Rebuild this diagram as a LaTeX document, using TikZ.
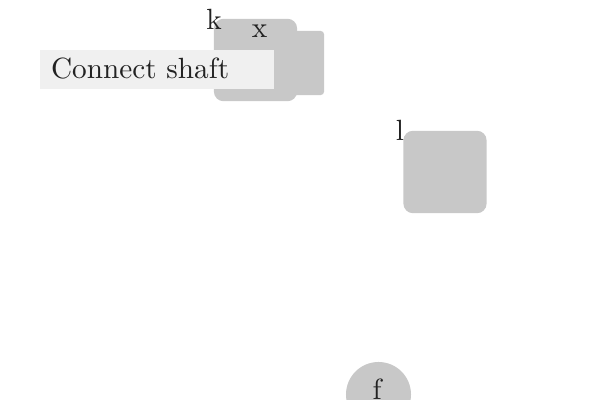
\documentclass[tikz,border=0pt]{standalone}
\begin{document}
\definecolor{boxgray}{HTML}{C8C8C8}
\definecolor{tagfill}{HTML}{F0F0F0}
\definecolor{ink}{HTML}{222222}
\tikzset{
  unit/.style={x=0.0125cm,y=-0.0125cm},
  blockbox/.style={fill=boxgray, draw=none, rounded corners=1.2mm,
    minimum width=1.04cm, minimum height=1.03cm, inner sep=0pt},
  backplate/.style={fill=boxgray, draw=none, rounded corners=0.4mm,
    minimum width=0.8cm, minimum height=0.8cm, inner sep=0pt},
  tagbox/.style={fill=tagfill, draw=none, minimum width=2.925cm,
    minimum height=0.4875cm, inner sep=0pt, text=ink},
  disc/.style={circle, fill=boxgray, draw=none, minimum size=0.8125cm, inner sep=0pt},
  txt/.style={text=ink, inner sep=0pt},
}
\begin{tikzpicture}[unit, font=\fontsize{10.4}{12.5}\selectfont]
\useasboundingbox (0,0) rectangle (600,400);
% plate behind block k
\node[backplate] (plate) at (292,63) {};
% block k with its inner caption
\node[blockbox] (k) at (255.5,60) {};
\node[txt, anchor=base] (kx) at (259.5,38) {x};
\node[txt] (klabel) at (214,19) {k};
% caption tag
\node[tagbox] (tag) at (157,69.5) {};
\node[txt, anchor=base west] (tagtext) at (50.5,79) {Connect shaft};
% block l
\node[blockbox] (l) at (445,172) {};
\node[txt] (llabel) at (400,130) {l};
% round node f
\node[disc] (f) at (378.5,394.5) {};
\node[txt, anchor=base] (ftext) at (377,400) {f};
\end{tikzpicture}
\end{document}
